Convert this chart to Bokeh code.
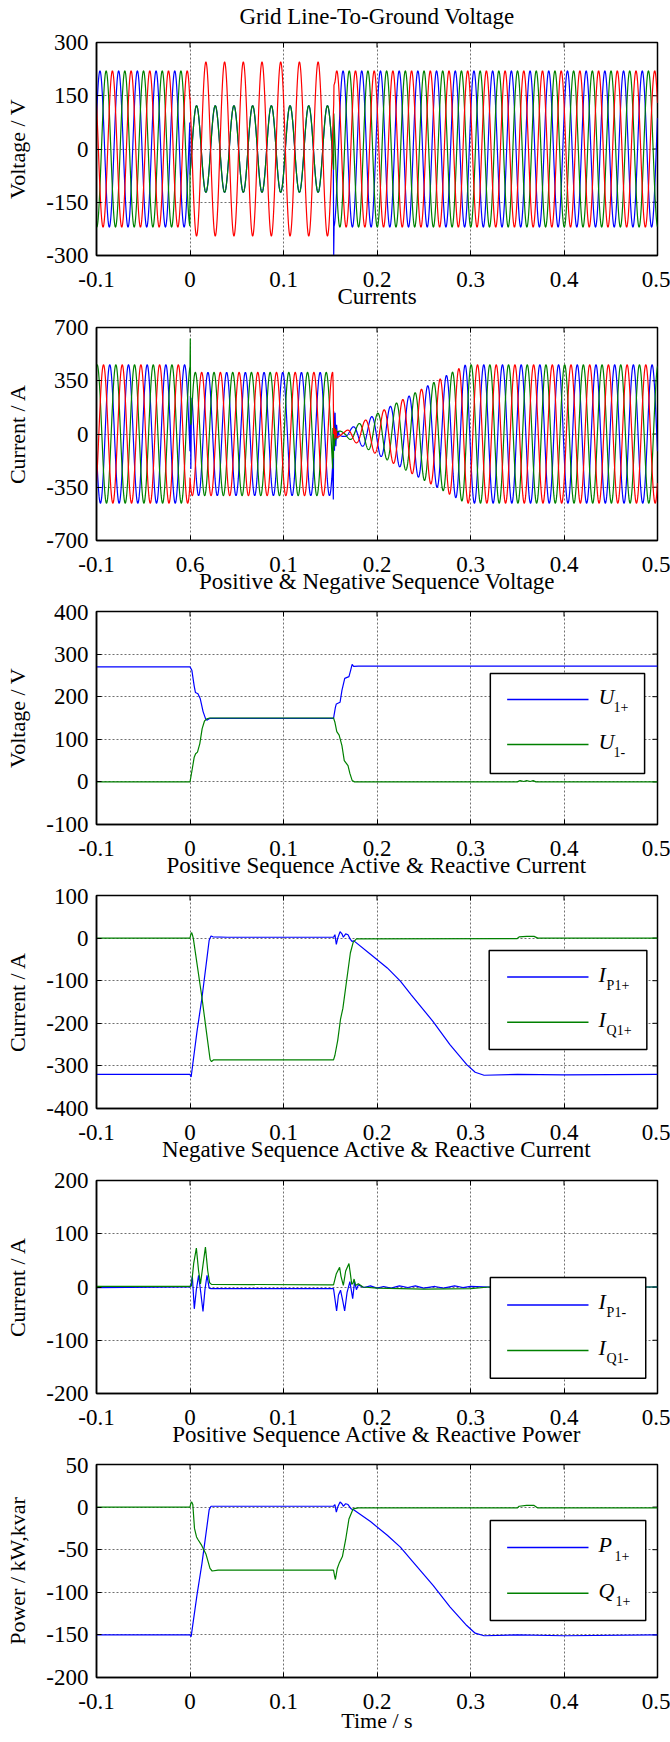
import numpy as np
from bokeh.plotting import figure
from bokeh.layouts import column
from bokeh.models import Range1d, FixedTicker, BoxAnnotation, LinearAxis
from bokeh.core.properties import value
from bokeh.embed import file_html
from bokeh.resources import INLINE

FONT = "Liberation Serif"
FS = "23px"
YLAB_FS = "22px"
LEG_FS = "22px"
SUB_FS = "14px"
BLUE, GREEN, RED = "#0000ff", "#008000", "#ff0000"

# ---------------- axes / text ----------------
X_RANGE = (-0.1, 0.5)
x_ticks = [-0.1, 0.0, 0.1, 0.2, 0.3, 0.4, 0.5]
x_tick_labels = ["-0.1", "0", "0.1", "0.2", "0.3", "0.4", "0.5"]
x_tick_labels_currents = ["-0.1", "0.6", "0.1", "0.2", "0.3", "0.4", "0.5"]

titles = ["Grid Line-To-Ground Voltage", "Currents", "Positive & Negative Sequence Voltage",
          "Positive Sequence Active & Reactive Current", "Negative Sequence Active & Reactive Current",
          "Positive Sequence Active & Reactive Power"]
ylabels = ["Voltage / V", "Current / A", "Voltage / V", "Current / A", "Current / A", "Power / kW,kvar"]
xlabel_last = "Time / s"
y_ranges = [(-300, 300), (-700, 700), (-100, 400), (-400, 100), (-200, 200), (-200, 50)]
y_ticks = [[-300, -150, 0, 150, 300], [-700, -350, 0, 350, 700], [-100, 0, 100, 200, 300, 400],
           [-400, -300, -200, -100, 0, 100], [-200, -100, 0, 100, 200], [-200, -150, -100, -50, 0, 50]]

# ---------------- panel 1: grid phase voltages (50 Hz) ----------------
F_GRID = 50.0
v_seg_t = [-0.1, 0.0, 0.1537]          # pre-fault, fault, post-fault
v_amp_a = [220, 122, 220]
v_amp_b = [220, 122, 220]
v_amp_c = [220, 245, 220]
v_peak_a = [0.0037, 0.0070, 0.0037]    # time of a crest (mod 20 ms)
v_peak_b = [0.0103, 0.0070, 0.0103]
v_peak_c = [0.0170, 0.0170, 0.0170]
v_a_spike_t = [0.1533, 0.1537, 0.1541]
v_a_spike_v = [-48, -300, -218]
v_c_spike_t = [0.1537, 0.1540, 0.1550, 0.1556]
v_c_spike_v = [125, 180, 188, 199]

# ---------------- panel 2: phase currents ----------------
i_env_t = [-0.1, 0.0, 0.0, 0.1535, 0.1535, 0.165, 0.295, 0.5]
i_env_a = [455, 455, 405, 405, 25, 15, 455, 455]
i_lag_t = [-0.1, 0.0, 0.1535]
i_lag_s = [0.0, 0.005, 0.0]
i_peak_a, i_peak_b, i_peak_c = 0.0142, 0.0207, 0.0275
i_a_fault_t = [0.0, 0.0004, 0.0009, 0.0015, 0.0022]
i_a_fault_v = [-113, 250, -230, 150, 238]
i_b_fault_t = [0.0, 0.0003, 0.0008, 0.0013]
i_b_fault_v = [444, 628, 60, 76]
i_a_clear_t = [0.1525, 0.1533, 0.1537, 0.1545, 0.1552, 0.1560, 0.1568, 0.1578, 0.1590]
i_a_clear_v = [-206, -430, 150, -110, 140, -80, 60, -30, 20]
i_b_clear_t = [0.1528, 0.1533, 0.1538, 0.1545, 0.1553, 0.1560, 0.1570]
i_b_clear_v = [40, -160, 60, -80, 40, -40, 20]
i_c_clear_t = [0.1527, 0.1532, 0.1536, 0.1542, 0.1550, 0.1560, 0.1570]
i_c_clear_v = [400, 300, 0, 40, -30, 30, -20]

# ---------------- panel 3: sequence voltages ----------------
u1p_t = [-0.1, 0.0, 0.002, 0.0045, 0.0058, 0.0085, 0.011, 0.014, 0.0167, 0.018, 0.021, 0.1535,
         0.1555, 0.1565, 0.1605, 0.1625, 0.1655, 0.170, 0.1718, 0.1734, 0.175, 0.18, 0.5]
u1p_v = [270, 270, 262, 225, 210, 207, 195, 165, 148, 145, 149, 149,
         175, 183, 187, 215, 243, 247, 262, 276, 271, 272, 272]
u1n_t = [-0.1, 0.0, 0.002, 0.0045, 0.006, 0.008, 0.0105, 0.013, 0.0155, 0.018, 0.021, 0.1535,
         0.155, 0.157, 0.1595, 0.1625, 0.165, 0.167, 0.169, 0.171, 0.1735, 0.176, 0.35, 0.353,
         0.357, 0.36, 0.364, 0.367, 0.37, 0.5]
u1n_v = [0, 0, 25, 58, 66, 70, 90, 125, 143, 148, 150, 150,
         140, 118, 110, 85, 50, 44, 38, 20, 3, 0, 0, 3,
         1, 3, 1, 3, 0, 0]

# ---------------- panel 4: positive-sequence currents ----------------
ip1_t = [-0.1, 0.0, 0.0012, 0.0075, 0.0128, 0.0182, 0.0205, 0.0225, 0.0245, 0.04, 0.1535,
         0.155, 0.1565, 0.158, 0.1605, 0.1625, 0.164, 0.1665, 0.169, 0.1715, 0.1735, 0.175,
         0.193, 0.211, 0.225, 0.2366, 0.26, 0.278, 0.296, 0.305, 0.3145, 0.35, 0.4, 0.5]
ip1_v = [-320, -320, -326, -219, -140, -46, -5, 5, 3, 2, 2,
         8, -15, 0, 15, 10, 2, 10, 8, -3, -8, -6,
         -38, -70, -101, -133, -196, -250, -297, -315, -322, -320, -321, -320]
iq1_t = [-0.1, 0.0, 0.001, 0.0018, 0.0028, 0.0035, 0.0128, 0.0175, 0.0215, 0.023, 0.025, 0.1535,
         0.155, 0.158, 0.161, 0.1635, 0.1715, 0.1745, 0.178, 0.35, 0.352, 0.36, 0.368, 0.372, 0.5]
iq1_v = [0, 0, 10, 13, 6, 0, -140, -219, -285, -290, -286, -286,
         -275, -240, -190, -165, -35, -10, -2, -1, 3, 4, 4, 0, 0]

# ---------------- panel 5: negative-sequence currents ----------------
ip2_t = [-0.1, 0.0, 0.0015, 0.0025, 0.0046, 0.0068, 0.0092, 0.0115, 0.0139, 0.016, 0.0182, 0.0205,
         0.0225, 0.1535, 0.1568, 0.1588, 0.161, 0.1633, 0.1654, 0.168, 0.171, 0.174, 0.176, 0.178,
         0.18, 0.186, 0.193, 0.2, 0.207, 0.215, 0.224, 0.233, 0.241, 0.25, 0.262, 0.271, 0.283,
         0.292, 0.3, 0.32, 0.5]
ip2_v = [-1, 0, 8, 20, -41, -5, 22, -10, -46, -5, 22, -2,
         -3, -3, -45, -15, -6, -25, -45, -10, 10, -22, 10, -5,
         4, -1, 2, -2, 1, -2, 2, -1, 2, -2, 1, -2, 2,
         -1, 1, 0, 0]
iq2_t = [-0.1, 0.0, 0.0015, 0.004, 0.0068, 0.0092, 0.0112, 0.0138, 0.0165, 0.019, 0.021, 0.023,
         0.1535, 0.1565, 0.160, 0.1615, 0.164, 0.1665, 0.170, 0.1715, 0.173, 0.1745, 0.1755, 0.177,
         0.18, 0.185, 0.2, 0.25, 0.3, 0.32, 0.5]
iq2_v = [1, 1, 2, 45, 73, 30, 6, 40, 75, 30, 8, 5,
         4, 25, 37, 20, 3, 30, 44, 25, 5, 8, 15, 3,
         6, 0, -2, -4, -3, 0, 0]

# ---------------- panel 6: positive-sequence power ----------------
p1_t = [-0.1, 0.0, 0.0012, 0.0075, 0.0128, 0.0182, 0.0205, 0.0225, 0.04, 0.1535,
        0.155, 0.1565, 0.158, 0.1605, 0.1625, 0.164, 0.1665, 0.169, 0.1715, 0.1735, 0.175,
        0.193, 0.211, 0.225, 0.2366, 0.26, 0.278, 0.296, 0.305, 0.3145, 0.35, 0.4, 0.5]
p1_v = [-150, -150, -152, -103, -66, -22, -3, 1, 1, 1,
        3, -6, 0, 6, 4, 1, 4, 3, -1, -3, -3,
        -17, -33, -47, -62, -92, -117, -139, -148, -151, -150, -151, -150]
q1_t = [-0.1, 0.0, 0.001, 0.0018, 0.003, 0.0048, 0.007, 0.0085, 0.0125, 0.017, 0.0214, 0.0237,
        0.03, 0.1535, 0.1545, 0.1555, 0.1575, 0.1595, 0.163, 0.1665, 0.170, 0.1745, 0.18,
        0.35, 0.352, 0.36, 0.368, 0.372, 0.5]
q1_v = [0, 0, 5, 6, 3, -25, -35, -38, -45, -55, -72, -75,
        -74, -74, -80, -85, -72, -66, -58, -38, -14, -2, -1,
        -1, 1, 2, 2, -1, -1]

# ---------------- legends (frame-fraction geometry) ----------------
legend_cfg = {
    2: dict(box=(0.702, 0.977, 0.239, 0.709), rows=(0.587, 0.376), mains=["U", "U"], subs=["1+", "1-"],
            sub_dx=[15, 15], colors=[BLUE, GREEN]),
    3: dict(box=(0.700, 0.981, 0.277, 0.742), rows=(0.617, 0.405), mains=["I", "I"], subs=["P1+", "Q1+"],
            sub_dx=[8, 8], colors=[BLUE, GREEN]),
    4: dict(box=(0.702, 0.979, 0.072, 0.545), rows=(0.416, 0.202), mains=["I", "I"], subs=["P1-", "Q1-"],
            sub_dx=[8, 8], colors=[BLUE, GREEN]),
    5: dict(box=(0.702, 0.979, 0.268, 0.737), rows=(0.610, 0.396), mains=["P", "Q"], subs=["1+", "1+"],
            sub_dx=[16, 17], colors=[BLUE, GREEN]),
}
LEG_LINE = (0.732, 0.877)
LEG_TEXT_X = 0.895

# ---------------- build series ----------------
t = np.round(np.arange(-0.1, 0.5 + 1e-9, 0.0002), 6)


def piecewise(tt, seg_t, vals):
    idx = np.clip(np.searchsorted(seg_t, tt, side="right") - 1, 0, len(seg_t) - 1)
    return np.asarray(vals, dtype=float)[idx]


def wave(amp, peak):
    return amp * np.cos(2 * np.pi * F_GRID * (t - peak))


def with_points(tt, yy, pt_t, pt_v):
    keep = (tt < pt_t[0]) | (tt > pt_t[-1])
    t2 = np.concatenate([tt[keep], np.asarray(pt_t, float)])
    y2 = np.concatenate([yy[keep], np.asarray(pt_v, float)])
    o = np.argsort(t2, kind="stable")
    return t2[o], y2[o]


va = wave(piecewise(t, v_seg_t, v_amp_a), piecewise(t, v_seg_t, v_peak_a))
vb = wave(piecewise(t, v_seg_t, v_amp_b), piecewise(t, v_seg_t, v_peak_b))
vc = wave(piecewise(t, v_seg_t, v_amp_c), piecewise(t, v_seg_t, v_peak_c))
va_t, va = with_points(t, va, v_a_spike_t, v_a_spike_v)
vc_t, vc = with_points(t, vc, v_c_spike_t, v_c_spike_v)

env = np.interp(t, i_env_t, i_env_a)
lag = piecewise(t, i_lag_t, i_lag_s)
ia = env * np.cos(2 * np.pi * F_GRID * (t - i_peak_a - lag))
ib = env * np.cos(2 * np.pi * F_GRID * (t - i_peak_b - lag))
ic = env * np.cos(2 * np.pi * F_GRID * (t - i_peak_c - lag))
ia_t, ia = with_points(t, ia, i_a_fault_t, i_a_fault_v)
ia_t, ia = with_points(ia_t, ia, i_a_clear_t, i_a_clear_v)
ib_t, ib = with_points(t, ib, i_b_fault_t, i_b_fault_v)
ib_t, ib = with_points(ib_t, ib, i_b_clear_t, i_b_clear_v)
ic_t, ic = with_points(t, ic, i_c_clear_t, i_c_clear_v)

series = [
    [(va_t, va, BLUE), (t, vb, GREEN), (vc_t, vc, RED)],
    [(ia_t, ia, BLUE), (ib_t, ib, GREEN), (ic_t, ic, RED)],
    [(u1p_t, u1p_v, BLUE), (u1n_t, u1n_v, GREEN)],
    [(ip1_t, ip1_v, BLUE), (iq1_t, iq1_v, GREEN)],
    [(ip2_t, ip2_v, BLUE), (iq2_t, iq2_v, GREEN)],
    [(p1_t, p1_v, BLUE), (q1_t, q1_v, GREEN)],
]

# ---------------- layout ----------------
FRAME_W, FRAME_H = 561, 213
BORDER_LEFT, BORDER_RIGHT = 96, 13
# (top, bottom) borders; the title of panel k+1 is drawn as the x-axis label of panel k
borders = [(41, 64), (8, 64), (7, 64), (7, 64), (8, 64), (7, 66)]
XTICK_STANDOFF = 16
NEXT_TITLE_STANDOFF = -6
TIME_LABEL_STANDOFF = -4
YLABEL_STANDOFF = 13


def make_fig(i):
    y0, y1 = y_ranges[i]
    bt, bb = borders[i]
    p = figure(frame_width=FRAME_W, frame_height=FRAME_H,
               x_range=Range1d(*X_RANGE), y_range=Range1d(y0, y1),
               output_backend="svg", toolbar_location=None,
               min_border_left=BORDER_LEFT, min_border_right=BORDER_RIGHT,
               min_border_top=bt, min_border_bottom=bb)
    p.background_fill_color = "white"
    p.border_fill_color = "white"
    p.outline_line_color = "black"
    p.outline_line_width = 1.5

    xax = p.below[0]
    yax = p.left[0]
    labels = x_tick_labels_currents if i == 1 else x_tick_labels
    xax.ticker = FixedTicker(ticks=x_ticks)
    xax.major_label_overrides = {tk: lb for tk, lb in zip(x_ticks, labels)}
    yax.ticker = FixedTicker(ticks=y_ticks[i])
    yax.major_label_overrides = {tk: str(tk) for tk in y_ticks[i]}
    p.xgrid.ticker = FixedTicker(ticks=x_ticks)
    p.ygrid.ticker = FixedTicker(ticks=y_ticks[i])
    for ax in (xax, yax):
        ax.major_label_text_font = FONT
        ax.major_label_text_font_size = FS
        ax.major_label_text_color = "black"
        ax.major_tick_in = 5
        ax.major_tick_out = 0
        ax.minor_tick_in = 0
        ax.minor_tick_out = 0
        ax.axis_line_width = 1.5
        ax.axis_line_color = "black"
        ax.major_tick_line_color = "black"
        ax.axis_label_text_font = FONT
        ax.axis_label_text_font_size = YLAB_FS
        ax.axis_label_text_font_style = "normal"
        ax.axis_label_text_color = "black"
    xax.major_label_standoff = XTICK_STANDOFF
    yax.major_label_standoff = 8
    yax.axis_label = ylabels[i]
    yax.axis_label_standoff = YLABEL_STANDOFF
    if i < 5:
        xax.axis_label = titles[i + 1]
        xax.axis_label_text_font_size = FS
        xax.axis_label_standoff = NEXT_TITLE_STANDOFF
    else:
        xax.axis_label = xlabel_last
        xax.axis_label_text_font_size = YLAB_FS
        xax.axis_label_standoff = TIME_LABEL_STANDOFF
    if i == 0:
        tax = LinearAxis(ticker=FixedTicker(ticks=[]), axis_line_color=None,
                         major_tick_in=0, major_tick_out=0, minor_tick_in=0, minor_tick_out=0,
                         axis_label=titles[0], axis_label_standoff=14,
                         axis_label_text_font=FONT, axis_label_text_font_size=FS,
                         axis_label_text_font_style="normal", axis_label_text_color="black")
        p.add_layout(tax, "above")
    for g in (p.xgrid[0], p.ygrid[0]):
        g.grid_line_color = "#333333"
        g.grid_line_alpha = 0.7
        g.grid_line_dash = "2 2"
        g.grid_line_width = 1

    # mirrored inward ticks on the top and right frame edges
    p.scatter(x=x_ticks, y=[y1] * len(x_ticks), marker="dash", size=10, angle=np.pi / 2,
              line_color="black", line_width=1)
    p.scatter(x=[X_RANGE[1]] * len(y_ticks[i]), y=y_ticks[i], marker="dash", size=10,
              line_color="black", line_width=1)

    for xs, ys, col in series[i]:
        p.line(list(xs), list(ys), line_color=col, line_width=1.2)

    if i in legend_cfg:
        cfg = legend_cfg[i]
        fx = lambda f: X_RANGE[0] + f * (X_RANGE[1] - X_RANGE[0])
        fy = lambda f: y0 + f * (y1 - y0)
        l, r, b, tp = cfg["box"]
        p.add_layout(BoxAnnotation(left=fx(l), right=fx(r), bottom=fy(b), top=fy(tp),
                                   fill_color="white", fill_alpha=1.0,
                                   line_color="black", line_width=1.5, line_alpha=1.0))
        for k, rf in enumerate(cfg["rows"]):
            p.line([fx(LEG_LINE[0]), fx(LEG_LINE[1])], [fy(rf), fy(rf)],
                   line_color=cfg["colors"][k], line_width=1.5, level="overlay")
        ys_rows = [fy(rf) for rf in cfg["rows"]]
        p.text(x=[fx(LEG_TEXT_X)] * 2, y=ys_rows, text=cfg["mains"],
               text_font=value(FONT), text_font_size=LEG_FS, text_font_style="italic",
               text_color="black", text_baseline="middle", text_align="left",
               y_offset=-3, level="overlay")
        p.text(x=[fx(LEG_TEXT_X)] * 2, y=ys_rows, text=cfg["subs"],
               text_font=value(FONT), text_font_size=SUB_FS,
               text_color="black", text_baseline="middle", text_align="left",
               x_offset=cfg["sub_dx"], y_offset=8, level="overlay")
    return p


figs = [make_fig(i) for i in range(6)]
layout = column(*figs, spacing=0)
open("out.html", "w").write(file_html(layout, INLINE, title="Grid fault response"))
